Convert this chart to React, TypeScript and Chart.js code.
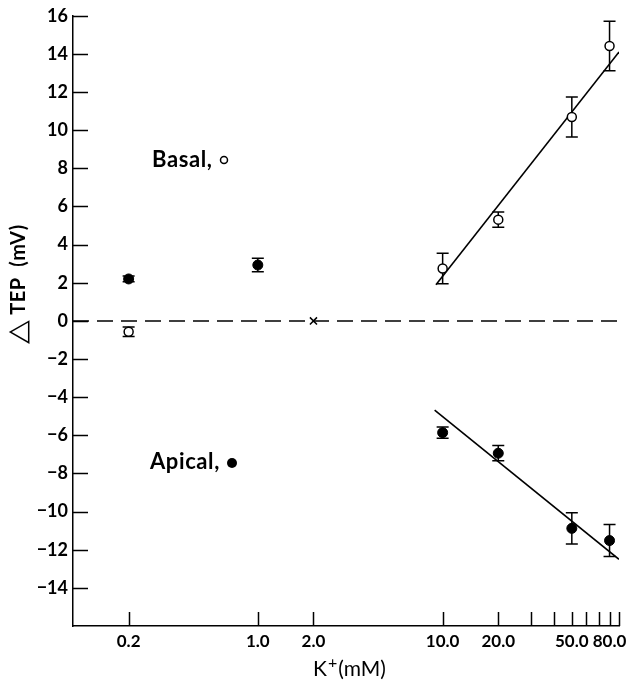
import React, { useEffect, useRef } from 'react';
import { Chart, registerables } from 'chart.js';

Chart.register(...registerables);

// ---- data ----
const basalX = [0.2, 10, 20, 50, 80];
const basalY = [-0.57, 2.75, 5.31, 10.69, 14.42];
const basalErr = [0.25, 0.8, 0.4, 1.05, 1.3];

const apicalX = [0.2, 1.0, 10, 20, 50, 80];
const apicalY = [2.2, 2.93, -5.86, -6.94, -10.88, -11.52];
const apicalErr = [0.15, 0.35, 0.3, 0.4, 0.82, 0.84];

const basalFitX = [9.2, 90];
const basalFitY = [1.9, 14.1];
const apicalFitX = [9.05, 90];
const apicalFitY = [-4.68, -12.5];

const controlX = [2.0];
const controlY = [0];

const zeroLineX = [0.1, 90];
const zeroLineY = [0, 0];

const xTickValues = [0.2, 1, 2, 10, 20, 30, 40, 50, 60, 70, 80, 90];
const xTickLabels = ['0.2', '1.0', '2.0', '10.0', '20.0', '', '', '50.0', '', '', '80.0', ''];
const yTickValues = [-16, -14, -12, -10, -8, -6, -4, -2, 0, 2, 4, 6, 8, 10, 12, 14, 16];
const yTickLabels = ['', '−14', '−12', '−10', '−8', '−6', '−4', '−2', '0', '2', '4', '6', '8', '10', '12', '14', '16'];

const yTitleSymbol = '△';
const yTitleText = ' TEP  (mV)';
const xTitleMain = 'K';
const xTitleSup = '+';
const xTitleUnit = '(mM)';
const basalLabel = 'Basal,';
const apicalLabel = 'Apical,';

const FONT = 'Lato, "DejaVu Sans", sans-serif';

const zip = (xs: number[], ys: number[]) => xs.map((x, i) => ({ x, y: ys[i] }));

const overlay = {
  id: 'overlay',
  beforeDatasetsDraw(chart: any) {
    const ctx = chart.ctx;
    const xs = chart.scales.x;
    const ys = chart.scales.y;
    ctx.save();
    ctx.strokeStyle = '#000';
    ctx.lineWidth = 1.5;
    const drawErr = (X: number[], Y: number[], E: number[]) => {
      X.forEach((xv, i) => {
        const px = xs.getPixelForValue(xv);
        const top = ys.getPixelForValue(Y[i] + E[i]);
        const bot = ys.getPixelForValue(Y[i] - E[i]);
        ctx.beginPath();
        ctx.moveTo(px, top);
        ctx.lineTo(px, bot);
        ctx.moveTo(px - 6, top);
        ctx.lineTo(px + 6, top);
        ctx.moveTo(px - 6, bot);
        ctx.lineTo(px + 6, bot);
        ctx.stroke();
      });
    };
    drawErr(basalX, basalY, basalErr);
    drawErr(apicalX, apicalY, apicalErr);
    ctx.restore();
  },
  afterDraw(chart: any) {
    const ctx = chart.ctx;
    const xs = chart.scales.x;
    const ys = chart.scales.y;
    const area = chart.chartArea;
    ctx.save();
    ctx.strokeStyle = '#000';
    ctx.lineWidth = 1.5;
    // inward tick marks
    ctx.beginPath();
    yTickValues.forEach((v) => {
      if (v === -16) return;
      const py = Math.round(ys.getPixelForValue(v)) + 0.5;
      ctx.moveTo(area.left, py);
      ctx.lineTo(area.left + 15, py);
    });
    xTickValues.forEach((v) => {
      const px = Math.round(xs.getPixelForValue(v)) + 0.5;
      ctx.moveTo(px, area.bottom);
      ctx.lineTo(px, area.bottom - 14);
    });
    ctx.stroke();

    ctx.fillStyle = '#000';
    // y title
    ctx.save();
    ctx.translate(26, 344);
    ctx.rotate(-Math.PI / 2);
    ctx.textBaseline = 'alphabetic';
    ctx.textAlign = 'left';
    ctx.save();
    ctx.scale(1.15, 1);
    ctx.font = `27px "DejaVu Sans", sans-serif`;
    ctx.fillText(yTitleSymbol, 0, 0);
    const w0 = ctx.measureText(yTitleSymbol).width * 1.15;
    ctx.restore();
    ctx.font = `bold 20px ${FONT}`;
    (ctx as any).letterSpacing = '0.5px';
    ctx.fillText(yTitleText, w0, -1);
    ctx.restore();

    // x title
    ctx.textBaseline = 'alphabetic';
    ctx.textAlign = 'left';
    let tx = 313;
    const by = 676;
    ctx.font = `21px ${FONT}`;
    ctx.fillText(xTitleMain, tx, by);
    tx += ctx.measureText(xTitleMain).width + 1;
    ctx.font = `16px ${FONT}`;
    ctx.fillText(xTitleSup, tx, by - 8);
    tx += ctx.measureText(xTitleSup).width + 1;
    ctx.font = `21px ${FONT}`;
    ctx.fillText(xTitleUnit, tx, by);

    // annotations
    ctx.font = `bold 22px ${FONT}`;
    (ctx as any).letterSpacing = '0.6px';
    ctx.fillText(basalLabel, 152, 167);
    ctx.fillText(apicalLabel, 150, 469);
    ctx.beginPath();
    ctx.arc(224, 160, 3.5, 0, Math.PI * 2);
    ctx.lineWidth = 1.5;
    ctx.stroke();
    ctx.beginPath();
    ctx.arc(232, 463, 5, 0, Math.PI * 2);
    ctx.fill();
    ctx.restore();
  },
};

export default function App() {
  const ref = useRef<HTMLCanvasElement | null>(null);
  useEffect(() => {
    if (!ref.current) return;
    const chart = new Chart(ref.current, {
      type: 'scatter',
      data: {
        datasets: [
          {
            label: 'Basal',
            data: zip(basalX, basalY),
            pointRadius: 4.5,
            pointBackgroundColor: '#fff',
            pointBorderColor: '#000',
            pointBorderWidth: 1.5,
          },
          {
            label: 'Apical',
            data: zip(apicalX, apicalY),
            pointRadius: 5,
            pointBackgroundColor: '#000',
            pointBorderColor: '#000',
            pointBorderWidth: 1,
          },
          {
            label: 'Control',
            data: zip(controlX, controlY),
            pointStyle: 'crossRot',
            pointRadius: 5,
            pointBorderColor: '#000',
            pointBorderWidth: 1.5,
          },
          {
            label: 'Basal fit',
            data: zip(basalFitX, basalFitY),
            showLine: true,
            borderColor: '#000',
            borderWidth: 1.6,
            pointRadius: 0,
          },
          {
            label: 'Apical fit',
            data: zip(apicalFitX, apicalFitY),
            showLine: true,
            borderColor: '#000',
            borderWidth: 1.6,
            pointRadius: 0,
          },
          {
            label: 'Zero',
            data: zip(zeroLineX, zeroLineY),
            showLine: true,
            borderColor: '#000',
            borderWidth: 1.5,
            borderDash: [16, 8],
            pointRadius: 0,
          },
        ],
      } as any,
      options: {
        responsive: false,
        animation: false,
        layout: { padding: { top: 15, right: 20, left: 0, bottom: 0 } },
        plugins: { legend: { display: false }, tooltip: { enabled: false } },
        scales: {
          x: {
            type: 'logarithmic',
            min: 0.1,
            max: 90,
            afterBuildTicks: (s: any) => {
              s.ticks = xTickValues.map((v) => ({ value: v }));
            },
            afterFit: (s: any) => {
              s.height = 56;
            },
            grid: { display: false, drawTicks: false },
            border: { display: true, color: '#000', width: 1.5 },
            ticks: {
              autoSkip: false,
              maxRotation: 0,
              padding: 5,
              color: '#000',
              font: { family: FONT, size: 17, weight: 'bold' },
              callback: (_v: any, i: number) => xTickLabels[i],
            },
          },
          y: {
            min: -16,
            max: 16,
            afterBuildTicks: (s: any) => {
              s.ticks = yTickValues.map((v) => ({ value: v }));
            },
            afterFit: (s: any) => {
              s.width = 73;
            },
            grid: { display: false, drawTicks: false },
            border: { display: true, color: '#000', width: 1.5 },
            ticks: {
              autoSkip: false,
              padding: 5,
              color: '#000',
              font: { family: FONT, size: 18, weight: 'bold' },
              callback: (_v: any, i: number) => yTickLabels[i],
            },
          },
        },
      } as any,
      plugins: [overlay],
    });
    return () => chart.destroy();
  }, []);
  return (
    <div style={{ position: 'fixed', left: 0, top: 0, width: 639, height: 682, background: '#fff' }}>
      <canvas ref={ref} width={639} height={682} style={{ display: 'block' }} />
    </div>
  );
}
